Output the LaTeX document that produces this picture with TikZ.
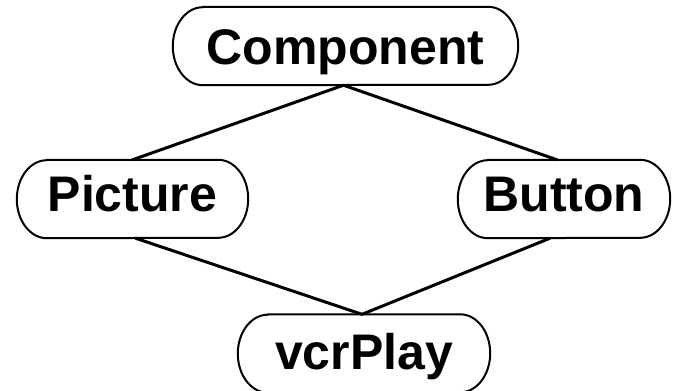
\documentclass[tikz,border=0pt]{standalone}
\usepackage{fontspec}
\setmainfont{Liberation Sans}
\begin{document}
\begin{tikzpicture}[x=1pt,y=-1pt,
  box/.style={inner sep=0pt, minimum height=78pt,
    font=\fontsize{50}{50}\selectfont\bfseries, text height=36pt, text depth=0pt},
  lowtext/.style={text depth=12pt},
  link/.style={line width=3pt, line cap=round}]
\useasboundingbox (0,0) rectangle (673,391);

% class boxes
\node[box, minimum width=345pt] (comp) at (345.5,46) {Component};
\node[box, lowtext, minimum width=231pt] (pic) at (132.5,199) {Picture};
\node[box, lowtext, minimum width=212pt] (btn) at (564,199) {Button};
\node[box, text depth=4pt, minimum width=252pt] (vcr) at (364,353.5) {vcrPlay};

% pill outlines with elliptical ends
\foreach \n in {comp,pic,btn,vcr}{
  \draw[line width=2pt]
    ([xshift=30pt]\n.north west) -- ([xshift=-30pt]\n.north east)
    arc[start angle=90, end angle=-90, x radius=30pt, y radius=39pt]
    -- ([xshift=30pt]\n.south west)
    arc[start angle=270, end angle=90, x radius=30pt, y radius=39pt]
    -- cycle;
}

% inheritance links
\draw[link] ([xshift=-2pt]comp.south) -- (pic.north);
\draw[link] ([xshift=-2pt]comp.south) -- ([xshift=-7pt]btn.north);
\draw[link] ([xshift=3pt]pic.south) -- ([xshift=-2pt]vcr.north);
\draw[link] ([xshift=-14pt]btn.south) -- ([xshift=-2pt]vcr.north);
\end{tikzpicture}
\end{document}
